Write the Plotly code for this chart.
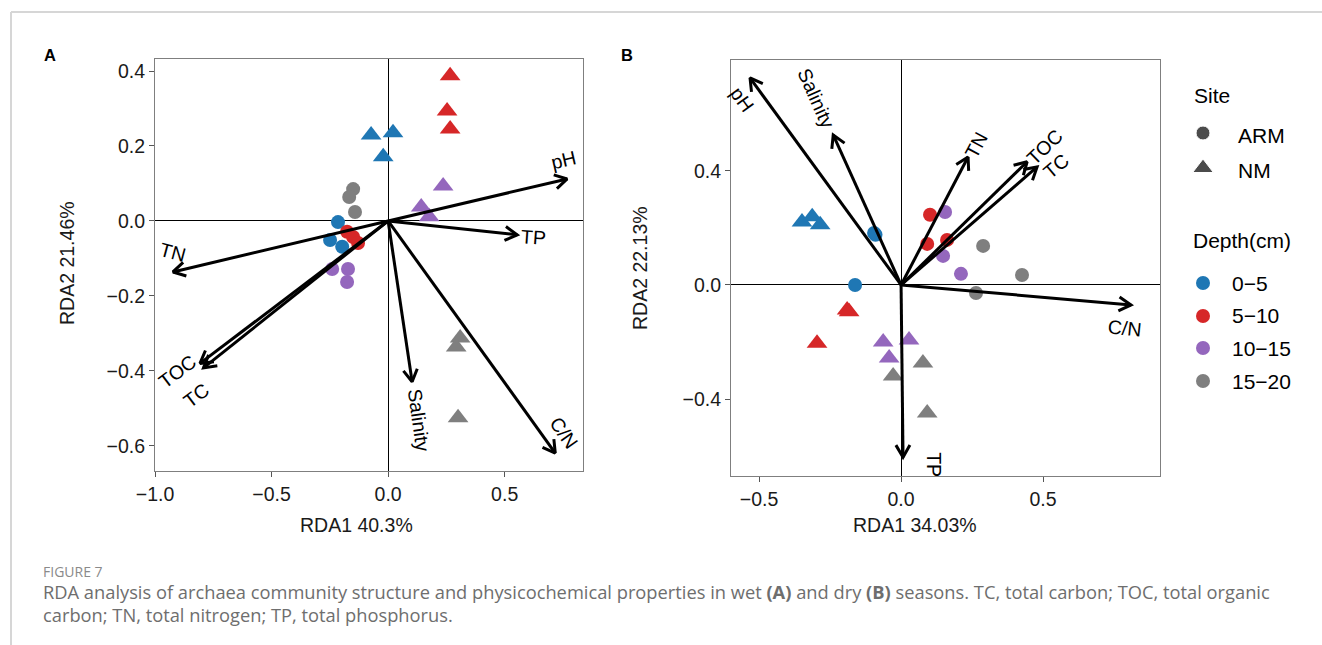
import math
import plotly.graph_objects as go

W, H = 1322, 645

# ---------------- data: panel A (wet season) ----------------
depth_levels = ["0-5", "5-10", "10-15", "15-20"]

a_site = ["NM"] * 12 + ["ARM"] * 12
a_depth = (["0-5"] * 3 + ["5-10"] * 3 + ["10-15"] * 3 + ["15-20"] * 3) * 2
a_rda1 = [-0.073, 0.021, -0.021, 0.266, 0.253, 0.266, 0.236, 0.142, 0.176, 0.309, 0.292, 0.300,
          -0.215, -0.249, -0.197, -0.176, -0.150, -0.129, -0.240, -0.172, -0.176, -0.150, -0.167, -0.142]
a_rda2 = [0.229, 0.235, 0.171, 0.387, 0.293, 0.245, 0.093, 0.037, 0.011, -0.312, -0.336, -0.525,
          -0.003, -0.051, -0.069, -0.029, -0.043, -0.059, -0.128, -0.128, -0.163, 0.085, 0.064, 0.024]

a_vars = ["pH", "TP", "C/N", "Salinity", "TN", "TOC", "TC"]
a_vx = [0.768, 0.554, 0.717, 0.103, -0.923, -0.807, -0.792]
a_vy = [0.112, -0.037, -0.619, -0.429, -0.136, -0.380, -0.392]

# ---------------- data: panel B (dry season) ----------------
b_site = ["NM"] * 12 + ["ARM"] * 12
b_depth = (["0-5"] * 3 + ["5-10"] * 3 + ["10-15"] * 3 + ["15-20"] * 3) * 2
b_rda1 = [-0.349, -0.313, -0.285, -0.190, -0.183, -0.296, -0.063, 0.028, -0.042, -0.028, 0.077, 0.092,
          -0.095, -0.090, -0.162, 0.102, 0.092, 0.162, 0.155, 0.148, 0.211, 0.289, 0.426, 0.264]
b_rda2 = [0.221, 0.239, 0.211, -0.088, -0.094, -0.204, -0.200, -0.193, -0.256, -0.319, -0.274, -0.449,
          0.182, 0.176, 0.000, 0.246, 0.144, 0.158, 0.256, 0.102, 0.039, 0.137, 0.035, -0.028]

b_vars = ["pH", "Salinity", "TN", "TOC", "TC", "C/N", "TP"]
b_vx = [-0.532, -0.239, 0.236, 0.444, 0.479, 0.810, 0.007]
b_vy = [0.726, 0.526, 0.449, 0.432, 0.414, -0.070, -0.604]

# tick values
a_xticks = [-1.0, -0.5, 0.0, 0.5]
a_yticks = [0.4, 0.2, 0.0, -0.2, -0.4, -0.6]
b_xticks = [-0.5, 0.0, 0.5]
b_yticks = [0.4, 0.0, -0.4]

# ---------------- styles ----------------
colors = {"0-5": "#1F77B4", "5-10": "#D62728", "10-15": "#9467BD", "15-20": "#7F7F7F"}
symbols = {"ARM": "circle", "NM": "triangle-up"}
msize = {"ARM": 14, "NM": 18}
FONT = "Liberation Sans, Arial, sans-serif"
FS = 19.5

# panel boxes in pixels (x0, x1, y0(top), y1(bottom)) and ranges
PA = dict(x0=155, x1=583, y0=59, y1=471, xr=(-1.0, 0.836), yr=(-0.667, 0.432))
PB = dict(x0=731, x1=1160, y0=60, y1=476, xr=(-0.599, 0.912), yr=(-0.670, 0.789))

# label offsets (xshift px, yshift px, textangle)
a_lab = {"pH": (-4, 19, -13), "TP": (16, -2, 4), "C/N": (9, 20, 55), "Salinity": (7, -38, 82),
         "TN": (0, 20, 15), "TOC": (-22, -8, -37), "TC": (-7, -27, -37)}
b_lab = {"pH": (-8, -21, 54), "Salinity": (-17, 37, 66), "TN": (8, 12, -62), "TOC": (17, 15, -44),
         "TC": (19, 1, -40), "C/N": (-6, -23, 6), "TP": (31, -7, 90)}

fig = go.Figure()


def add_points(site, depth, xs, ys, xa, ya):
    for s in ["ARM", "NM"]:
        for d in depth_levels:
            px = [x for x, si, di in zip(xs, site, depth) if si == s and di == d]
            py = [y for y, si, di in zip(ys, site, depth) if si == s and di == d]
            fig.add_trace(go.Scatter(x=px, y=py, mode="markers", xaxis=xa, yaxis=ya,
                                     marker=dict(symbol=symbols[s], size=msize[s], color=colors[d],
                                                 line=dict(width=0)),
                                     showlegend=False, hoverinfo="skip"))


def add_arrows(names, vx, vy, P, xa, ya, labs, axname):
    sx = (P["x1"] - P["x0"]) / (P["xr"][1] - P["xr"][0])
    sy = (P["y1"] - P["y0"]) / (P["yr"][1] - P["yr"][0])
    for n, tx, ty in zip(names, vx, vy):
        px, py = tx * sx, ty * sy
        L = math.hypot(px, py)
        ux, uy = -px / L, -py / L
        hl, ang = 14.0, math.radians(30)
        arms = []
        for a in (ang, -ang):
            rx = ux * math.cos(a) - uy * math.sin(a)
            ry = ux * math.sin(a) + uy * math.cos(a)
            arms.append((tx + rx * hl / sx, ty + ry * hl / sy))
        fig.add_trace(go.Scatter(
            x=[0, tx, None, arms[0][0], tx, arms[1][0]],
            y=[0, ty, None, arms[0][1], ty, arms[1][1]],
            mode="lines", xaxis=xa, yaxis=ya, line=dict(color="black", width=3),
            showlegend=False, hoverinfo="skip"))
        dx, dy, ta = labs[n]
        fig.add_annotation(x=tx, y=ty, xref=axname[0], yref=axname[1], text=n, showarrow=False,
                           xshift=dx, yshift=dy, textangle=ta,
                           font=dict(family=FONT, size=FS, color="black"))


add_points(a_site, a_depth, a_rda1, a_rda2, "x", "y")
add_arrows(a_vars, a_vx, a_vy, PA, "x", "y", a_lab, ("x", "y"))
add_points(b_site, b_depth, b_rda1, b_rda2, "x2", "y2")
add_arrows(b_vars, b_vx, b_vy, PB, "x2", "y2", b_lab, ("x2", "y2"))


def ax_common(tickvals, rng, dom):
    return dict(domain=dom, range=list(rng), tickvals=tickvals,
                ticktext=[("%.1f" % v).replace("-", "\u2212") for v in tickvals],
                showgrid=False, zeroline=True, zerolinecolor="black", zerolinewidth=1.2,
                showline=True, linecolor="#7f7f7f", linewidth=1.2, mirror=True,
                ticks="outside", ticklen=5, tickcolor="#555", tickwidth=1.2, automargin=False,
                tickfont=dict(family=FONT, size=FS, color="#1a1a1a"))


def xdom(P):
    return [P["x0"] / W, P["x1"] / W]


def ydom(P):
    return [1 - P["y1"] / H, 1 - P["y0"] / H]


# legend axes (pixel coordinate frame)
LX = [1170, W]
LY = [60, 420]

fig.update_layout(
    width=W, height=H, autosize=False,
    margin=dict(l=0, r=0, t=0, b=0, pad=0, autoexpand=False),
    paper_bgcolor="white", plot_bgcolor="rgba(0,0,0,0)", showlegend=False,
    xaxis=ax_common(a_xticks, PA["xr"], xdom(PA)),
    yaxis=ax_common(a_yticks, PA["yr"], ydom(PA)),
    xaxis2=ax_common(b_xticks, PB["xr"], xdom(PB)),
    yaxis2=ax_common(b_yticks, PB["yr"], ydom(PB)),
    xaxis3=dict(domain=[LX[0] / W, LX[1] / W], range=LX, visible=False),
    yaxis3=dict(domain=[1 - LY[1] / H, 1 - LY[0] / H], range=[LY[1], LY[0]], visible=False),
)
fig.layout.xaxis2.anchor = "y2"
fig.layout.yaxis2.anchor = "x2"
fig.layout.xaxis3.anchor = "y3"
fig.layout.yaxis3.anchor = "x3"

# ---- legend ----
leg_site = ["ARM", "NM"]
fig.add_trace(go.Scatter(x=[1203, 1203], y=[133, 168], mode="markers", xaxis="x3", yaxis="y3",
                         marker=dict(symbol=[symbols[s] for s in leg_site], size=[14, 18], color="black"),
                         showlegend=False, hoverinfo="skip"))
fig.add_trace(go.Scatter(x=[1203] * 4, y=[283, 316, 348, 381], mode="markers", xaxis="x3", yaxis="y3",
                         marker=dict(symbol="circle", size=14, color=[colors[d] for d in depth_levels]),
                         showlegend=False, hoverinfo="skip"))


def txt(x, y, s, size=17, color="black", xanchor="left", angle=0, family=FONT):
    fig.add_annotation(x=x / W, y=1 - y / H, xref="paper", yref="paper", text=s, showarrow=False,
                       xanchor=xanchor, yanchor="middle", textangle=angle,
                       font=dict(family=family, size=size, color=color))


LFS = 21
txt(1192, 95, "Site", LFS)
for s, yy in zip(leg_site, [135, 170]):
    txt(1236, yy, s, LFS)
txt(1191, 240, "Depth(cm)", LFS)
for d, yy in zip(depth_levels, [283, 316, 348, 381]):
    txt(1230, yy, d.replace("-", "\u2212"), LFS)

# axis titles
txt(356, 525, "RDA1 40.3%", FS, "#1a1a1a", "center")
txt(67, 263, "RDA2 21.46%", FS, "#1a1a1a", "center", -90)
txt(915, 525, "RDA1 34.03%", FS, "#1a1a1a", "center")
txt(640, 268, "RDA2 22.13%", FS, "#1a1a1a", "center", -90)

# panel labels
txt(42, 55, "<b>A</b>", 16.5)
txt(619, 55, "<b>B</b>", 16.5)

# caption
CAP = "Open Sans, Noto Sans, sans-serif"
txt(41, 571, "FIGURE 7", 14, "#8a8a8a", family=CAP)
txt(41, 591, "RDA analysis of archaea community structure and physicochemical properties in wet "
             "<b>(A)</b> and dry <b>(B)</b> seasons. TC, total carbon; TOC, total organic", 18.3, "#6e6e6e", family=CAP)
txt(41, 614, "carbon; TN, total nitrogen; TP, total phosphorus.", 18.3, "#6e6e6e", family=CAP)

# page frame
fig.add_shape(type="line", xref="paper", yref="paper", x0=11 / W, x1=1, y0=1 - 12 / H, y1=1 - 12 / H,
              line=dict(color="#d6d6d6", width=2))
fig.add_shape(type="line", xref="paper", yref="paper", x0=11 / W, x1=11 / W, y0=0, y1=1 - 12 / H,
              line=dict(color="#d6d6d6", width=2))

fig.write_html("out.html")
